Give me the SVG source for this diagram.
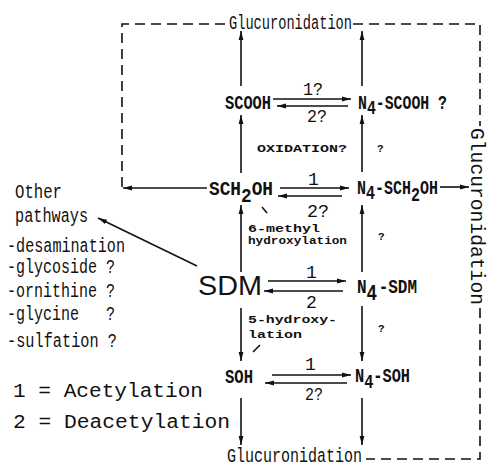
<svg xmlns="http://www.w3.org/2000/svg" width="487" height="468" viewBox="0 0 487 468">
<style>
.t{font-family:"Liberation Mono","Courier New",monospace;font-size:20px;fill:#111}
.b{font-weight:bold}
.e{font-family:"Liberation Mono","Courier New",monospace;font-size:18px;fill:#111}
.m{font-family:"Liberation Mono","Courier New",monospace;font-size:20px;fill:#111}
.s{font-family:"Liberation Mono","Courier New",monospace;font-size:11px;font-weight:bold;fill:#111}
.ln{stroke:#111;stroke-width:1.6;fill:none}
.da{stroke:#111;stroke-width:1.6;fill:none;stroke-dasharray:10 6}
</style>
<defs>
<marker id="ah" markerUnits="userSpaceOnUse" markerWidth="10" markerHeight="6" refX="9" refY="3" orient="auto">
<path d="M0,0.6 L9,3 L0,5.4 z" fill="#111"/>
</marker>
</defs>
<rect width="487" height="468" fill="#fff"/>
<g id="connectors">
<path class="da" d="M122,187 V24 H228"/>
<path class="da" d="M353,24 H480 V126"/>
<path class="da" d="M480,308 V459 H366"/>
<g class="ln" marker-end="url(#ah)">
<line x1="241" y1="86" x2="241" y2="31"/>
<line x1="241" y1="173" x2="241" y2="115"/>
<line x1="241" y1="272" x2="241" y2="205"/>
<line x1="241" y1="308" x2="241" y2="361"/>
<line x1="241" y1="398" x2="241" y2="445"/>
<line x1="362" y1="86" x2="362" y2="31"/>
<line x1="362" y1="172" x2="362" y2="115"/>
<line x1="362" y1="272" x2="362" y2="205"/>
<line x1="362" y1="306" x2="362" y2="361"/>
<line x1="362" y1="398" x2="362" y2="445"/>
<line x1="273" y1="99" x2="351" y2="99"/>
<line x1="348" y1="106" x2="277" y2="106"/>
<line x1="280" y1="188" x2="349" y2="188"/>
<line x1="342" y1="196" x2="278" y2="196"/>
<line x1="268" y1="281" x2="346" y2="281"/>
<line x1="343" y1="291" x2="264" y2="291"/>
<line x1="272" y1="375" x2="351" y2="375"/>
<line x1="347" y1="383" x2="265" y2="383"/>
<line x1="440" y1="187" x2="469" y2="187"/>
<line x1="207" y1="188" x2="123" y2="188"/>
<line x1="197" y1="266" x2="98" y2="218"/>
</g>
<line class="ln" x1="262" y1="207" x2="267" y2="213" stroke-width="1.2"/>
<line class="ln" x1="253" y1="352" x2="260" y2="345" stroke-width="1.2"/>
<text class="e" x="303" y="95" textLength="20" lengthAdjust="spacingAndGlyphs">1?</text>
<text class="e" x="307" y="122" textLength="20" lengthAdjust="spacingAndGlyphs">2?</text>
<text class="e" x="308" y="185">1</text>
<text class="e" x="307" y="217" textLength="22" lengthAdjust="spacingAndGlyphs">2?</text>
<text class="e" x="306" y="278">1</text>
<text class="e" x="306" y="308">2</text>
<text class="e" x="305" y="370">1</text>
<text class="e" x="305" y="400" textLength="18" lengthAdjust="spacingAndGlyphs">2?</text>
<text class="s" x="257" y="152" textLength="90" lengthAdjust="spacingAndGlyphs">OXIDATION?</text>
<text class="s" x="377" y="152">?</text>
<text class="s" x="248" y="232" textLength="72" lengthAdjust="spacingAndGlyphs">6-methyl</text>
<text class="s" x="248" y="244" textLength="99" lengthAdjust="spacingAndGlyphs">hydroxylation</text>
<text class="s" x="378" y="240">?</text>
<text class="s" x="248" y="323" textLength="89" lengthAdjust="spacingAndGlyphs">5-hydroxy-</text>
<text class="s" x="248" y="338" textLength="54" lengthAdjust="spacingAndGlyphs">lation</text>
<text class="s" x="378" y="332">?</text>
</g>
<g id="gluc-top"><text class="t" font-size="21" x="229" y="29" textLength="123" lengthAdjust="spacingAndGlyphs">Glucuronidation</text></g>
<g id="gluc-bottom"><text class="t" font-size="21" x="227" y="462" textLength="135" lengthAdjust="spacingAndGlyphs">Glucuronidation</text></g>
<g id="gluc-right"><text class="m" font-size="17" transform="translate(471,128) rotate(90)" x="0" y="0" textLength="177" lengthAdjust="spacingAndGlyphs">Glucuronidation</text></g>
<g id="scooh"><text class="t b" x="225" y="109" textLength="46" lengthAdjust="spacingAndGlyphs">SCOOH</text></g>
<g id="n4-scooh"><text class="t b" x="358" y="109" textLength="89" lengthAdjust="spacingAndGlyphs">N<tspan dy="5">4</tspan><tspan dy="-5">-SCOOH ?</tspan></text></g>
<g id="sch2oh"><text class="t b" x="209" y="195" textLength="64" lengthAdjust="spacingAndGlyphs">SCH<tspan dy="7">2</tspan><tspan dy="-7">OH</tspan></text></g>
<g id="n4-sch2oh"><text class="t b" x="357" y="194" textLength="81" lengthAdjust="spacingAndGlyphs">N<tspan dy="5">4</tspan><tspan dy="-5">-SCH</tspan><tspan dy="7">2</tspan><tspan dy="-7">OH</tspan></text></g>
<g id="sdm"><text x="198" y="295" font-family="Liberation Sans, Arial, sans-serif" font-size="28" fill="#111" textLength="64" lengthAdjust="spacingAndGlyphs">SDM</text></g>
<g id="n4-sdm"><text class="t b" x="357" y="293" textLength="60" lengthAdjust="spacingAndGlyphs">N<tspan dy="7" font-size="22">4</tspan><tspan dy="-7" dx="2">-SDM</tspan></text></g>
<g id="soh"><text class="t b" x="225" y="383" textLength="28" lengthAdjust="spacingAndGlyphs">SOH</text></g>
<g id="n4-soh"><text class="t b" x="355" y="382" textLength="55" lengthAdjust="spacingAndGlyphs">N<tspan dy="6">4</tspan><tspan dy="-6">-SOH</tspan></text></g>
<g id="other-pathways">
<text class="t" x="15" y="198" textLength="47" lengthAdjust="spacingAndGlyphs">Other</text>
<text class="t" x="15" y="222" textLength="73" lengthAdjust="spacingAndGlyphs">pathways</text>
<text class="t" x="7" y="252" textLength="118" lengthAdjust="spacingAndGlyphs">-desamination</text>
<text class="t" x="7" y="273" textLength="108" lengthAdjust="spacingAndGlyphs">-glycoside ?</text>
<text class="t" x="7" y="297" textLength="108" lengthAdjust="spacingAndGlyphs">-ornithine ?</text>
<text class="t" x="7" y="320" textLength="108" lengthAdjust="spacingAndGlyphs" style="white-space:pre">-glycine   ?</text>
<text class="t" x="7" y="347" textLength="110" lengthAdjust="spacingAndGlyphs">-sulfation ?</text>
</g>
<g id="legend">
<text class="m" x="13" y="397" textLength="190" lengthAdjust="spacingAndGlyphs" style="white-space:pre">1 = Acetylation</text>
<text class="m" x="13" y="428" textLength="217" lengthAdjust="spacingAndGlyphs" style="white-space:pre">2 = Deacetylation</text>
</g>
</svg>
